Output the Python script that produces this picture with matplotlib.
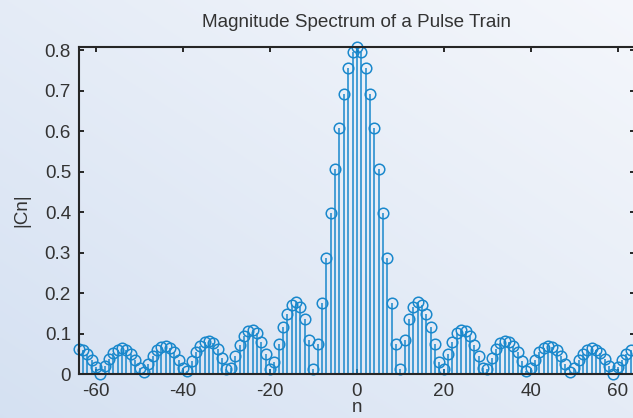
import numpy as np
import matplotlib
matplotlib.use("Agg")
import matplotlib.pyplot as plt

plt.rcParams["font.family"] = ["Liberation Sans", "DejaVu Sans"]
plt.rcParams["axes.unicode_minus"] = False

# harmonic index and |Cn|
n = np.arange(-64, 64)
mag = [
    0.062, 0.059, 0.050, 0.036, 0.018, 0.002, 0.021, 0.039, 0.053, 0.061,
    0.064, 0.060, 0.050, 0.035, 0.016, 0.005, 0.026, 0.044, 0.059, 0.068,
    0.070, 0.065, 0.054, 0.036, 0.015, 0.009, 0.033, 0.054, 0.071, 0.081,
    0.083, 0.077, 0.062, 0.041, 0.014, 0.016, 0.046, 0.073, 0.094, 0.107,
    0.110, 0.101, 0.081, 0.051, 0.013, 0.030, 0.075, 0.116, 0.150, 0.172,
    0.179, 0.167, 0.136, 0.084, 0.013, 0.076, 0.177, 0.287, 0.399, 0.508,
    0.607, 0.691, 0.755, 0.795,
    0.808,
    0.795, 0.755, 0.691, 0.607, 0.508, 0.399, 0.287, 0.177, 0.076, 0.013,
    0.084, 0.136, 0.167, 0.179, 0.172, 0.150, 0.116, 0.075, 0.030, 0.013,
    0.051, 0.081, 0.101, 0.110, 0.107, 0.094, 0.073, 0.046, 0.016, 0.014,
    0.041, 0.062, 0.077, 0.083, 0.081, 0.071, 0.054, 0.033, 0.009, 0.015,
    0.036, 0.054, 0.065, 0.070, 0.068, 0.059, 0.044, 0.026, 0.005, 0.016,
    0.035, 0.050, 0.060, 0.064, 0.061, 0.053, 0.039, 0.021, 0.002, 0.018,
    0.036, 0.050, 0.059,
]
xticks = [-60, -40, -20, 0, 20, 40, 60]
yticks = [0, 0.1, 0.2, 0.3, 0.4, 0.5, 0.6, 0.7, 0.8]

fig = plt.figure(figsize=(6.33, 4.18), dpi=100)

# soft diagonal gradient background
bg = fig.add_axes([0, 0, 1, 1], zorder=-10)
u, v = np.meshgrid(np.linspace(0, 1, 200), np.linspace(1, 0, 200))
t = ((u + v) / 2)[..., None]
c0 = np.array([0.835, 0.882, 0.949])
c1 = np.array([0.960, 0.968, 0.986])
bg.imshow(c0 + t * (c1 - c0), aspect="auto", extent=[0, 1, 0, 1])
bg.axis("off")

ax = fig.add_axes([0.1243, 0.1045, 0.8789, 0.7831])
ax.set_facecolor("none")

blue = "#1a88cc"
markerline, stemlines, baseline = ax.stem(n, mag, linefmt="-", markerfmt="o", basefmt=" ")
stemlines.set_color(blue)
stemlines.set_linewidth(1.1)
markerline.set_markerfacecolor("none")
markerline.set_markeredgecolor(blue)
markerline.set_markersize(7.6)
markerline.set_markeredgewidth(1.1)
markerline.set_clip_on(False)

ax.set_xlim(-64, 64)
ax.set_ylim(0, max(mag))
ax.set_xticks(xticks)
ax.set_yticks(yticks)
ax.set_yticklabels(["0", "0.1", "0.2", "0.3", "0.4", "0.5", "0.6", "0.7", "0.8"])

for s in ax.spines.values():
    s.set_linewidth(1.5)
    s.set_color("#262626")
ax.tick_params(direction="in", length=3.8, width=1.4, color="#262626",
               labelsize=13.6, labelcolor="#333333", top=True, right=True)
ax.tick_params(axis="y", pad=5.5)
ax.tick_params(axis="x", pad=6)

ax.set_title("Magnitude Spectrum of a Pulse Train", fontsize=13.6, color="#333333", pad=14.5)
ax.set_xlabel("n", fontsize=13.6, color="#333333", va="center")
ax.xaxis.set_label_coords(0.5, -0.102)
ax.set_ylabel("|Cn|", fontsize=13.6, color="#333333", va="center")
ax.yaxis.set_label_coords(-0.1025, 0.5)

fig.savefig("out.png", dpi=100)
